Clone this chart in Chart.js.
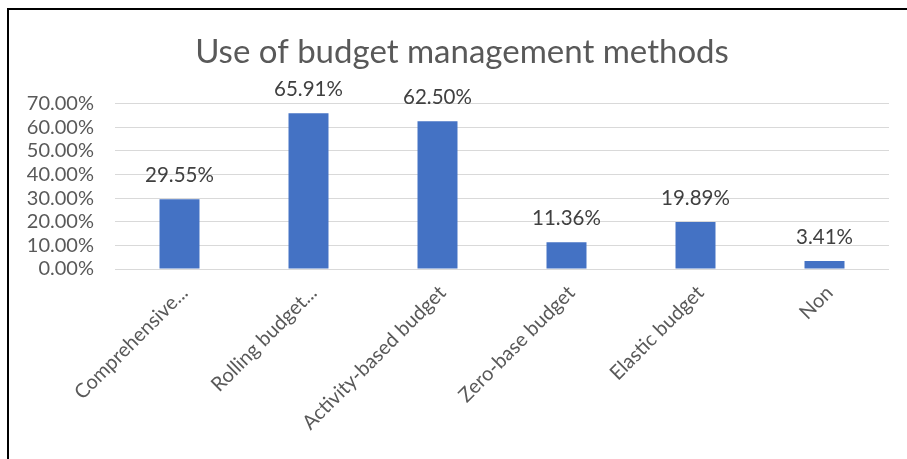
<!DOCTYPE html>
<html>
<head>
<meta charset="utf-8">
<script src="https://cdn.jsdelivr.net/npm/chart.js@4/dist/chart.umd.min.js"></script>
<style>
  html, body { margin: 0; padding: 0; background: #fff; }
  #wrap { position: absolute; left: 0; top: 0; width: 907px; height: 459px; }
  #frame { position: absolute; left: 7px; top: 8px; right: 0; bottom: 0;
           border-left: 2px solid #000; border-top: 2px solid #000; pointer-events: none; }
</style>
</head>
<body>
<div id="wrap"><canvas id="myChart"></canvas></div>
<div id="frame"></div>
<script>
const categories = [
    'Comprehensive...',
    'Rolling budget...',
    'Activity-based budget',
    'Zero-base budget',
    'Elastic budget',
    'Non'
];
const usage = [29.55, 65.91, 62.50, 11.36, 19.89, 3.41];
const yTicks = [0, 10, 20, 30, 40, 50, 60, 70];

// draws the value above each bar
const valueLabels = {
    id: 'valueLabels',
    afterDatasetsDraw(chart) {
        const ctx = chart.ctx;
        const meta = chart.getDatasetMeta(0);
        ctx.save();
        ctx.font = '20.5px Lato';
        ctx.fillStyle = '#404040';
        ctx.textAlign = 'center';
        ctx.textBaseline = 'middle';
        meta.data.forEach((bar, i) => {
            ctx.fillText(usage[i].toFixed(2) + '%', bar.x, bar.y - 24);
        });
        ctx.restore();
    }
};

// nudge the title a bit to the right, like the original
const titleShift = {
    id: 'titleShift',
    afterLayout(chart) {
        if (chart.titleBlock) chart.titleBlock.left += 35;
    }
};

const data = {
    labels: categories,
    datasets: [{
        label: 'Use of budget management methods',
        data: usage,
        backgroundColor: '#4472C4',
        categoryPercentage: 1,
        barPercentage: 0.31
    }]
};

const config = {
    type: 'bar',
    data: data,
    options: {
        responsive: true,
        maintainAspectRatio: false,
        animation: false,
        layout: { padding: { left: 0, right: 18, top: 0, bottom: 0 } },
        plugins: {
            legend: { display: false },
            tooltip: { enabled: false },
            title: {
                display: true,
                text: 'Use of budget management methods',
                color: '#595959',
                font: { family: 'Lato', size: 33, weight: 'normal' },
                padding: { top: 33, bottom: 31 }
            }
        },
        scales: {
            x: {
                grid: { display: false },
                border: { display: false },
                ticks: {
                    color: '#595959',
                    font: { family: 'Lato', size: 20 },
                    minRotation: 45,
                    maxRotation: 45,
                    autoSkip: false,
                    labelOffset: 5,
                    padding: 4
                },
                afterFit(scale) { scale.height = 190; }
            },
            y: {
                min: 0,
                max: 70,
                afterBuildTicks(scale) { scale.ticks = yTicks.map(v => ({ value: v })); },
                grid: { color: '#D9D9D9', lineWidth: 1, drawTicks: false },
                border: { display: false },
                ticks: {
                    color: '#595959',
                    font: { family: 'Lato', size: 20 },
                    padding: 21,
                    autoSkip: false,
                    callback: v => v.toFixed(2) + '%'
                },
                afterFit(scale) { scale.width = 115; }
            }
        }
    },
    plugins: [valueLabels, titleShift]
};

const myChart = new Chart(document.getElementById('myChart'), config);
</script>
</body>
</html>
